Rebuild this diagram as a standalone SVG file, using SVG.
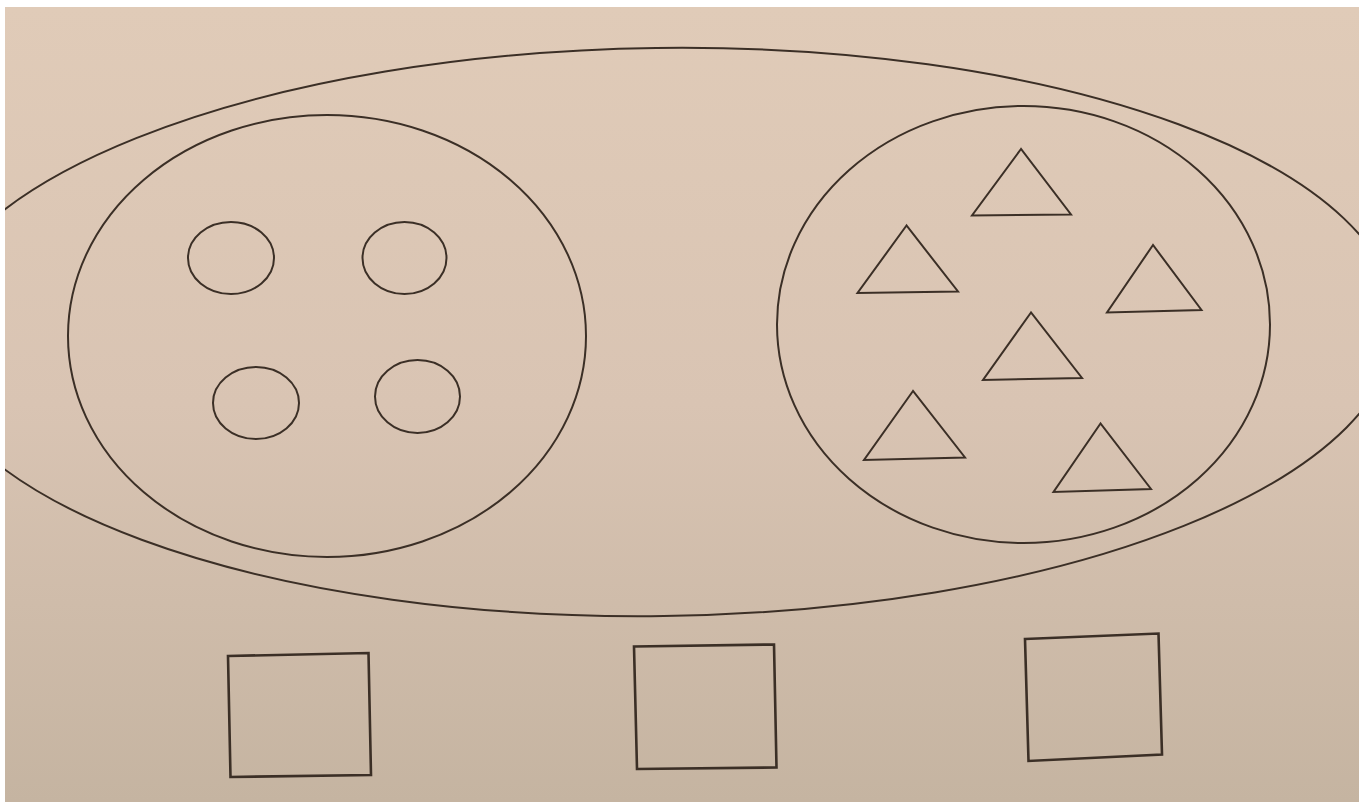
<svg xmlns="http://www.w3.org/2000/svg" width="1359" height="802" viewBox="0 0 1359 802">
<defs>
<linearGradient id="paper" x1="0" y1="0" x2="0" y2="1">
<stop offset="0" stop-color="#e0cbb8"/>
<stop offset="0.5" stop-color="#d9c4b3"/>
<stop offset="1" stop-color="#c5b4a1"/>
</linearGradient>
<clipPath id="paperclip"><rect x="5" y="7" width="1354" height="795"/></clipPath>
<style>
.ln{fill:none;stroke:#3b2f26;stroke-width:2;stroke-linejoin:miter}
.sq{fill:none;stroke:#3b2f26;stroke-width:2.6}
</style>
</defs>
<rect x="0" y="0" width="1359" height="802" fill="#ffffff"/>
<rect x="5" y="7" width="1354" height="795" fill="url(#paper)"/>
<g id="outer-set" clip-path="url(#paperclip)">
<ellipse class="ln" cx="660" cy="332" rx="737" ry="284" transform="rotate(-0.76 660 332)"/>
</g>
<g id="circle-set">
<ellipse class="ln" cx="327" cy="336" rx="259" ry="221"/>
</g>
<g id="circles">
<ellipse id="c1" class="ln" cx="231" cy="258" rx="43" ry="36"/>
<ellipse id="c2" class="ln" cx="404.5" cy="258" rx="42" ry="36"/>
<ellipse id="c3" class="ln" cx="256" cy="403" rx="43" ry="36"/>
<ellipse id="c4" class="ln" cx="417.5" cy="396.5" rx="42.5" ry="36.5"/>
</g>
<g id="triangle-set">
<ellipse class="ln" cx="1023.5" cy="324.5" rx="246.5" ry="218.5"/>
</g>
<g id="triangles">
<polygon id="t1" class="ln" points="1021,149 972,215.5 1071,214.5"/>
<polygon id="t2" class="ln" points="906.5,225.5 857.5,293 958,291.5"/>
<polygon id="t3" class="ln" points="1153,245 1107,312.5 1201.5,310"/>
<polygon id="t4" class="ln" points="1031,312.5 983,380 1082,378"/>
<polygon id="t5" class="ln" points="913,391 864,460 965,457.5"/>
<polygon id="t6" class="ln" points="1100.5,423.5 1053.5,492 1151,489"/>
</g>
<g id="squares">
<polygon id="s1" class="sq" points="228,656 368.5,653 371,775 230.5,777"/>
<polygon id="s2" class="sq" points="634,646.5 774,644.5 776.5,767.5 637,769"/>
<polygon id="s3" class="sq" points="1025,639 1158.5,633.5 1162,754.5 1028.5,761"/>
</g>
</svg>
